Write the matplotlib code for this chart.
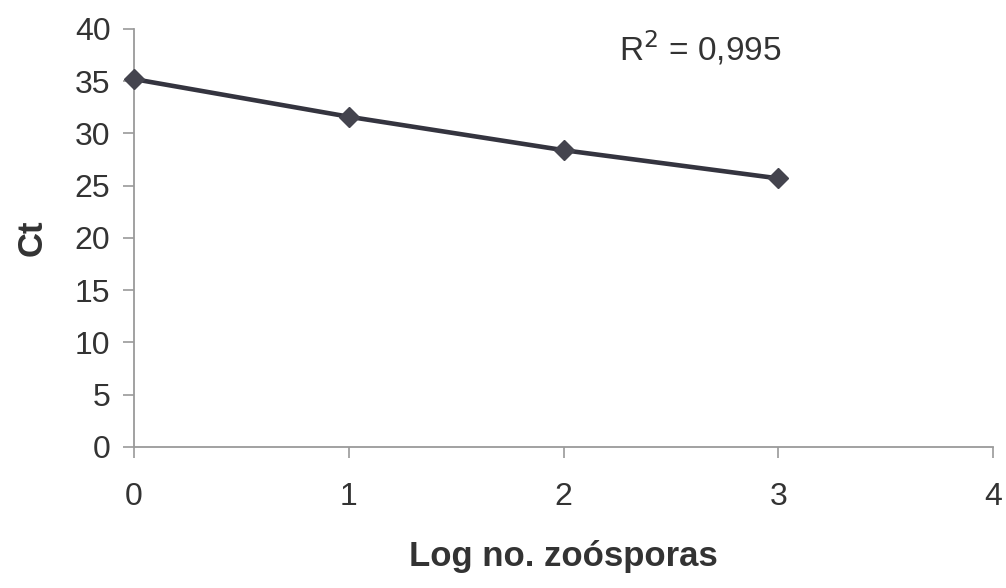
import matplotlib.pyplot as plt

plt.rcParams['font.family'] = ['Liberation Sans', 'DejaVu Sans']

# data
log_zoo = [0, 1, 2, 3]
ct = [35.2, 31.6, 28.4, 25.7]
r2_label = 'R$^2$ = 0,995'

fig = plt.figure(figsize=(10.06, 5.88), dpi=100)
ax = fig.add_axes([0.1332, 0.2398, 0.854, 0.711])

ax.plot(log_zoo, ct, color='#34343f', linewidth=3.3, marker='D', markersize=10,
        markerfacecolor='#44444e', markeredgecolor='#44444e', clip_on=False, zorder=3)

ax.set_xlim(0, 4)
ax.set_ylim(0, 40)
ax.set_xticks([0, 1, 2, 3, 4])
ax.set_yticks(range(0, 41, 5))

for side in ['top', 'right']:
    ax.spines[side].set_visible(False)
for side in ['left', 'bottom']:
    ax.spines[side].set_color('#9a9a9a')
    ax.spines[side].set_linewidth(1.3)

ax.tick_params(axis='both', colors='#9a9a9a', labelcolor='#333333', labelsize=23,
               length=8, width=1.2)
ax.tick_params(axis='x', pad=17)
ax.tick_params(axis='y', pad=9)

ax.set_xlabel('Log no. zoósporas', fontsize=25, fontweight='bold', color='#333333')
ax.xaxis.set_label_coords(0.5, -0.222)
ax.set_ylabel('Ct', fontsize=25, fontweight='bold', color='#333333', va='center')
ax.yaxis.set_label_coords(-0.118, 0.5)

ax.text(2.636, 38.2, r2_label, fontsize=24, color='#333333', ha='center', va='center')

fig.savefig('out.png', dpi=100, facecolor='white')
